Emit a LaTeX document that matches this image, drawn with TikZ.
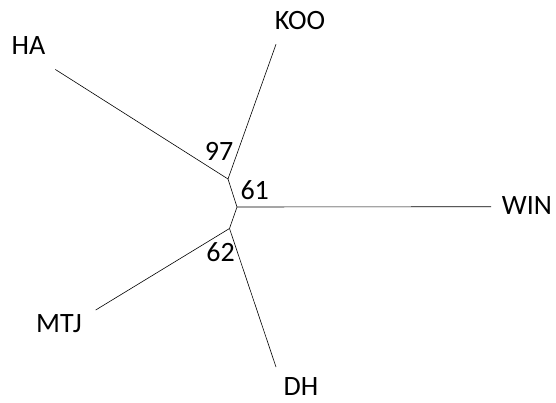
\documentclass[tikz,border=0pt]{standalone}
\usepackage{fontspec}
\setmainfont{Carlito}
\begin{document}
\begin{tikzpicture}[x=1pt,y=-1pt,
  branch/.style={draw=black,line width=0.6pt},
  leaflabel/.style={font=\fontsize{28}{32}\selectfont,inner sep=0pt,anchor=base},
  boot/.style={font=\fontsize{28}{32}\selectfont,inner sep=0pt,anchor=base}]
\useasboundingbox (0,0) rectangle (556,402);
\coordinate (ntop) at (228,179);
\coordinate (nmid) at (237,207);
\coordinate (nbot) at (229.5,228.5);
\coordinate (lHA) at (55.4,69.5);
\coordinate (lKOO) at (276,44.3);
\coordinate (lWIN) at (491,206.7);
\coordinate (lMTJ) at (95.7,310);
\coordinate (lDH) at (276,367);
\node[leaflabel] (tHA) at (28.5,54) {HA};
\node[leaflabel] (tKOO) at (300,29.3) {KOO};
\node[leaflabel] (tWIN) at (527,214) {WIN};
\node[leaflabel] (tMTJ) at (59,332.5) {MTJ};
\node[leaflabel] (tDH) at (301,395.5) {DH};
\node[boot] (b97) at (219,160) {97};
\node[boot] (b61) at (254.7,199.3) {61};
\node[boot] (b62) at (220.5,261.5) {62};
\draw[branch] (lHA) -- (ntop);
\draw[branch] (lKOO) -- (ntop);
\draw[branch] (ntop) -- (nmid);
\draw[branch] (nmid) -- (lWIN);
\draw[branch] (nmid) -- (nbot);
\draw[branch] (nbot) -- (lMTJ);
\draw[branch] (nbot) -- (lDH);
\end{tikzpicture}
\end{document}
